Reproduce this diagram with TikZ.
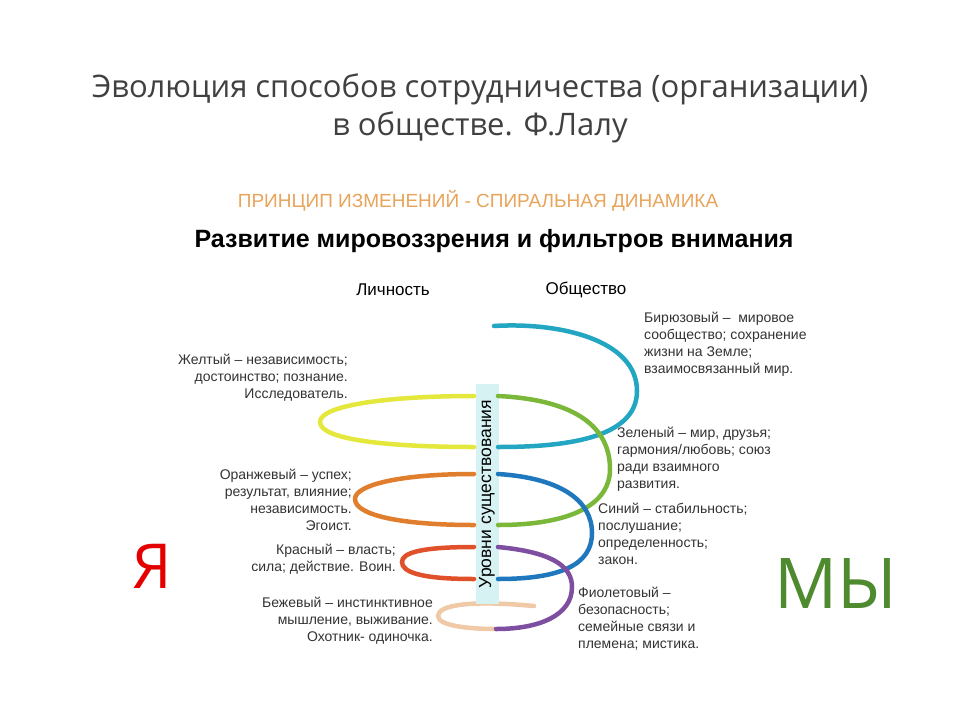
\documentclass[tikz,border=0pt]{standalone}
\usepackage{fontspec}
\setmainfont{Liberation Sans}
\newfontfamily\titlefont{Open Sans}
\begin{document}
\begin{tikzpicture}[x=1pt,y=-1pt,
  sp/.style={line width=4.5pt,line cap=round},
  lab/.style={font=\fontsize{14}{17}\selectfont,text=black!80,inner sep=0pt},
  labl/.style={lab,anchor=north west,align=left},
  labr/.style={lab,anchor=north east,align=right}]
\definecolor{cteal}{HTML}{22A6C2}
\definecolor{cyel}{HTML}{E4E83C}
\definecolor{cgreen}{HTML}{7BB83A}
\definecolor{corange}{HTML}{E07E2E}
\definecolor{cblue}{HTML}{1F77BE}
\definecolor{cred}{HTML}{E0502A}
\definecolor{cpurple}{HTML}{7E4FA0}
\definecolor{cbeige}{HTML}{F0C9A6}
\definecolor{cbar}{HTML}{D6F2F2}
\definecolor{cmy}{HTML}{4E8A2E}
\definecolor{csub}{HTML}{E8A45A}
\useasboundingbox (0,0) rectangle (960,720);
\fill[white] (0,0) rectangle (960,720);
\node[font=\titlefont\fontsize{31}{38}\selectfont,text=black!75,align=center] (title) at (480,108) {Эволюция способов сотрудничества (организации)\\в обществе. Ф.Лалу};
\node[font=\fontsize{19}{22}\selectfont,text=csub] (sub) at (478,201) {ПРИНЦИП ИЗМЕНЕНИЙ - СПИРАЛЬНАЯ ДИНАМИКА};
\node[font=\bfseries\fontsize{25}{28}\selectfont] (head) at (494,241) {Развитие мировоззрения и фильтров внимания};
\node[font=\fontsize{17}{20}\selectfont] (lich) at (393,290) {Личность};
\node[font=\fontsize{17}{20}\selectfont] (obsh) at (586,290) {Общество};
% beige behind bar
\draw[sp,cbeige] (534,606) .. controls (470,600) and (438,605) .. (438,616) .. controls (438,626) and (470,629) .. (496,629);
\node[fill=cbar,minimum width=23pt,minimum height=220pt,inner sep=0pt] (bar) at (487,494) {};
\node[rotate=90,font=\fontsize{17.5}{20}\selectfont] (bartext) at (bar.center) {Уровни существования};
\draw[sp,cteal] (494,326) .. controls (560,322) and (637,340) .. (637,391) .. controls (637,440) and (560,447) .. (498,447);
\draw[sp,cyel] (474,396) .. controls (390,396) and (320,405) .. (320,422) .. controls (320,440) and (390,447) .. (474,447);
\draw[sp,cgreen] (498,396) .. controls (580,400) and (610,430) .. (610,469) .. controls (610,505) and (570,525) .. (498,525);
\draw[sp,corange] (474,474) .. controls (400,474) and (355,485) .. (355,499) .. controls (355,515) and (400,525) .. (474,525);
\draw[sp,cblue] (498,474) .. controls (560,478) and (592,500) .. (592,533) .. controls (592,565) and (560,579) .. (498,579);
\draw[sp,cred] (474,547) .. controls (420,547) and (402,553) .. (402,562) .. controls (402,572) and (420,579) .. (474,579);
\draw[sp,cpurple] (498,547) .. controls (550,552) and (572,565) .. (572,587) .. controls (572,615) and (540,629) .. (496,629);
\node[labl] (t1) at (644,312) {Бирюзовый –\ \ мировое\\сообщество; сохранение\\жизни на Земле;\\взаимосвязанный мир.};
\node[labr] (t2) at (348,354) {Желтый – независимость;\\достоинство; познание.\\Исследователь.};
\node[labl] (t3) at (617,427) {Зеленый – мир, друзья;\\гармония/любовь; союз\\ради взаимного\\развития.};
\node[labr] (t4) at (352,469) {Оранжевый – успех;\\результат, влияние;\\независимость.\\Эгоист.};
\node[labl] (t5) at (598,503) {Синий – стабильность;\\послушание;\\определенность;\\закон.};
\node[labr] (t6) at (396,544) {Красный – власть;\\сила; действие. Воин.};
\node[labr] (t7) at (433,597) {Бежевый – инстинктивное\\мышление, выживание.\\Охотник- одиночка.};
\node[labl] (t8) at (578,587) {Фиолетовый –\\безопасность;\\семейные связи и\\племена; мистика.};
\node[font=\titlefont\fontsize{62}{64}\selectfont,text=red!90!black] (ya) at (152,566) {Я};
\node[font=\titlefont\fontsize{70}{72}\selectfont,text=cmy] (my) at (836,584) {МЫ};
\end{tikzpicture}
\end{document}
